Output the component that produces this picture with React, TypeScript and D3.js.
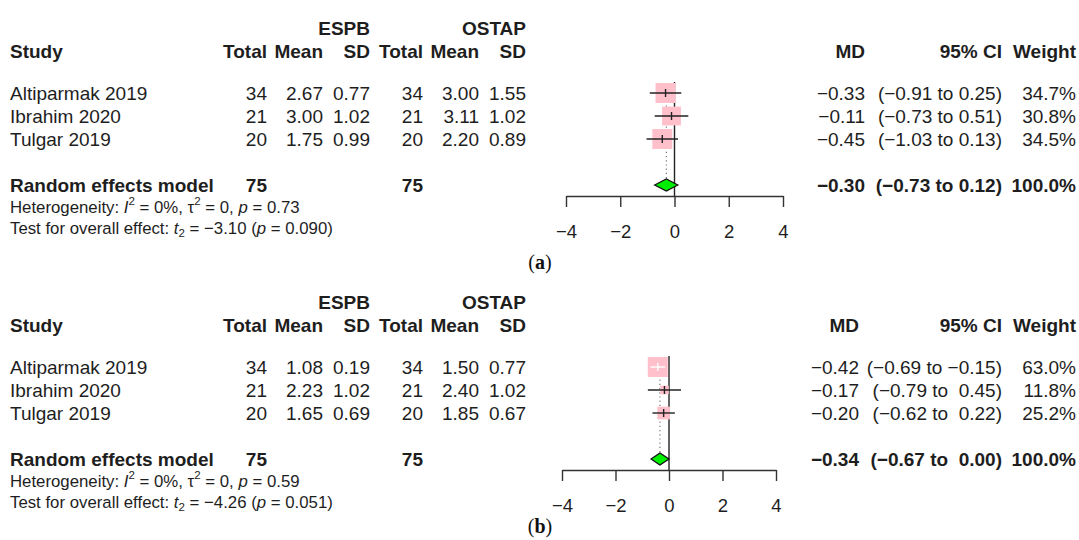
import { useRef, useEffect } from "react";
import * as d3 from "d3";

const FONT = "'Liberation Sans', Arial, sans-serif";
const INK = "#1e1e1e";

const studies = ["Altiparmak 2019", "Ibrahim 2020", "Tulgar 2019"];
const espbTotal = [34, 21, 20];
const ostapTotal = [34, 21, 20];
const axisTicks = [-4, -2, 0, 2, 4];

// panel (a)
const espbMeanA = [2.67, 3.0, 1.75];
const espbSdA = [0.77, 1.02, 0.99];
const ostapMeanA = [3.0, 3.11, 2.2];
const ostapSdA = [1.55, 1.02, 0.89];
const mdA = [-0.33, -0.11, -0.45];
const loA = [-0.91, -0.73, -1.03];
const hiA = [0.25, 0.51, 0.13];
const weightA = [34.7, 30.8, 34.5];
const pooledA = [-0.3, -0.73, 0.12];

// panel (b)
const espbMeanB = [1.08, 2.23, 1.65];
const espbSdB = [0.19, 1.02, 0.69];
const ostapMeanB = [1.5, 2.4, 1.85];
const ostapSdB = [0.77, 1.02, 0.67];
const mdB = [-0.42, -0.17, -0.2];
const loB = [-0.69, -0.79, -0.62];
const hiB = [-0.15, 0.45, 0.22];
const weightB = [63.0, 11.8, 25.2];
const pooledB = [-0.34, -0.67, 0.0];

const hetP = ["0.73", "0.59"];
const tStat = [-3.1, -4.26];
const testP = ["0.090", "0.051"];

const f2 = d3.format(".2f");
const f1 = d3.format(".1f");

// layout rows (center y) for the top panel, bottom panel is shifted
const ROW = { group: 28, head: 51, study: [93, 116, 139], pooled: 185, het: 207, test: 228, axis: 196 };

function Panel({ dy, range, mdX, md, lo, hi, w, pooled, eMean, eSd, oMean, oSd, k, label }) {
  const axisRef = useRef(null);
  const x = d3.scaleLinear().domain([-4, 4]).range(range);
  const size = d3.scaleSqrt().domain([0, d3.max(w)]).range([0, 20]);

  useEffect(() => {
    const g = d3.select(axisRef.current);
    g.selectAll("*").remove();
    g.call(d3.axisBottom(x).tickValues(axisTicks).tickSize(11).tickSizeOuter(0).tickPadding(18).tickFormat(d3.format("d")));
    g.select(".domain").attr("stroke", "#333").attr("stroke-width", 1.4);
    g.selectAll(".tick line").attr("stroke", "#333").attr("stroke-width", 1.4);
    g.selectAll(".tick text").attr("font-size", 18.5).attr("font-family", FONT).attr("fill", INK);
  }, []);

  const ciStr = (a, b) => {
    const all = hi.concat([pooled[2]]).map(f2);
    const wmax = d3.max(all, (s) => s.length);
    return `(${f2(a)} to ${f2(b).padStart(wmax, " ")})`;
  };

  const cols = [
    { x: 267, v: espbTotal, f: (v) => String(v), head: "Total" },
    { x: 323, v: eMean, f: f2, head: "Mean" },
    { x: 370, v: eSd, f: f2, head: "SD" },
    { x: 423, v: ostapTotal, f: (v) => String(v), head: "Total" },
    { x: 479, v: oMean, f: f2, head: "Mean" },
    { x: 526, v: oSd, f: f2, head: "SD" },
  ];

  const y = (v) => v + dy;
  const T = { fontFamily: FONT, fontSize: 19, fill: INK, dominantBaseline: "central", style: { whiteSpace: "pre" } };
  const S = { ...T, fontSize: 16.8 };
  const x0 = x(0);
  const [pm, pl, ph] = pooled;

  return (
    <g>
      {/* header */}
      <text {...T} x={370} y={y(ROW.group)} textAnchor="end" fontWeight="bold">ESPB</text>
      <text {...T} x={526} y={y(ROW.group)} textAnchor="end" fontWeight="bold">OSTAP</text>
      <text {...T} x={10} y={y(ROW.head)} fontWeight="bold">Study</text>
      {cols.map((c, i) => (
        <text key={"h" + i} {...T} x={c.x} y={y(ROW.head)} textAnchor="end" fontWeight="bold">{c.head}</text>
      ))}
      <text {...T} x={mdX} y={y(ROW.head)} textAnchor="end" fontWeight="bold">MD</text>
      <text {...T} x={1002} y={y(ROW.head)} textAnchor="end" fontWeight="bold">95% CI</text>
      <text {...T} x={1076} y={y(ROW.head)} textAnchor="end" fontWeight="bold">Weight</text>

      {/* study rows */}
      {studies.map((s, i) => (
        <g key={s}>
          <text {...T} x={10} y={y(ROW.study[i])}>{s}</text>
          {cols.map((c, j) => (
            <text key={j} {...T} x={c.x} y={y(ROW.study[i])} textAnchor="end">{c.f(c.v[i])}</text>
          ))}
          <text {...T} x={mdX} y={y(ROW.study[i])} textAnchor="end">{f2(md[i])}</text>
          <text {...T} x={1002} y={y(ROW.study[i])} textAnchor="end">{ciStr(lo[i], hi[i])}</text>
          <text {...T} x={1076} y={y(ROW.study[i])} textAnchor="end">{f1(w[i]) + "%"}</text>
        </g>
      ))}

      {/* pooled row */}
      <text {...T} x={10} y={y(ROW.pooled)} fontWeight="bold">Random effects model</text>
      <text {...T} x={267} y={y(ROW.pooled)} textAnchor="end" fontWeight="bold">{d3.sum(espbTotal)}</text>
      <text {...T} x={423} y={y(ROW.pooled)} textAnchor="end" fontWeight="bold">{d3.sum(ostapTotal)}</text>
      <text {...T} x={mdX} y={y(ROW.pooled)} textAnchor="end" fontWeight="bold">{f2(pm)}</text>
      <text {...T} x={1002} y={y(ROW.pooled)} textAnchor="end" fontWeight="bold">{ciStr(pl, ph)}</text>
      <text {...T} x={1076} y={y(ROW.pooled)} textAnchor="end" fontWeight="bold">100.0%</text>

      <text {...S} x={10} y={y(ROW.het)}>
        Heterogeneity: <tspan fontStyle="italic">I</tspan>
        <tspan fontSize={11.5} dy={-6}>2</tspan>
        <tspan dy={6}> = 0%, τ</tspan>
        <tspan fontSize={11.5} dy={-6}>2</tspan>
        <tspan dy={6}> = 0, </tspan>
        <tspan fontStyle="italic">p</tspan> = {hetP[k]}
      </text>
      <text {...S} x={10} y={y(ROW.test)}>
        Test for overall effect: <tspan fontStyle="italic">t</tspan>
        <tspan fontSize={11.5} dy={5}>2</tspan>
        <tspan dy={-5}> = {f2(tStat[k])} (</tspan>
        <tspan fontStyle="italic">p</tspan> = {testP[k]})
      </text>

      {/* forest */}
      <line x1={x0} x2={x0} y1={y(ROW.study[0] - 11)} y2={y(ROW.axis)} stroke="#222" strokeWidth={1.4} />
      <line x1={x(pm)} x2={x(pm)} y1={y(ROW.study[0])} y2={y(ROW.pooled - 6)} stroke="#777" strokeWidth={1.2} strokeDasharray="1.2,3" />
      {studies.map((s, i) => {
        const sz = size(w[i]);
        const cx = x(md[i]);
        const cy = y(ROW.study[i]);
        const inside = x(hi[i]) - x(lo[i]) < sz;
        const col = inside ? "#fff" : "#222";
        return (
          <g key={"f" + i}>
            <rect x={cx - sz / 2} y={cy - sz / 2} width={sz} height={sz} fill="#ffc0cb" />
            <line x1={x(lo[i])} x2={x(hi[i])} y1={cy} y2={cy} stroke={col} strokeWidth={1.4} />
            <line x1={cx} x2={cx} y1={cy - 4} y2={cy + 4} stroke={col} strokeWidth={1.4} />
          </g>
        );
      })}
      <path
        d={`M${x(pl)},${y(ROW.pooled)} L${x(pm)},${y(ROW.pooled) - 6} L${x(ph)},${y(ROW.pooled)} L${x(pm)},${y(ROW.pooled) + 6} Z`}
        fill="#00ee00"
        stroke="#111"
        strokeWidth={1.3}
      />
      <g ref={axisRef} transform={`translate(0,${y(ROW.axis)})`} />

      <text x={540} y={label.y} textAnchor="middle" dominantBaseline="central" fontFamily="'Liberation Serif', 'DejaVu Serif', serif" fontSize={20} fill="#111">
        (<tspan fontWeight="bold">{label.t}</tspan>)
      </text>
    </g>
  );
}

export default function App() {
  return (
    <svg width={1079} height={540} style={{ position: "absolute", left: 0, top: 0, background: "#fff" }}>
      <rect width={1079} height={540} fill="#fff" />
      <Panel dy={0} range={[566, 783]} mdX={865} md={mdA} lo={loA} hi={hiA} w={weightA} pooled={pooledA}
        eMean={espbMeanA} eSd={espbSdA} oMean={ostapMeanA} oSd={ostapSdA} k={0} label={{ t: "a", y: 262 }} />
      <Panel dy={274} range={[562, 776]} mdX={859} md={mdB} lo={loB} hi={hiB} w={weightB} pooled={pooledB}
        eMean={espbMeanB} eSd={espbSdB} oMean={ostapMeanB} oSd={ostapSdB} k={1} label={{ t: "b", y: 526 }} />
    </svg>
  );
}
